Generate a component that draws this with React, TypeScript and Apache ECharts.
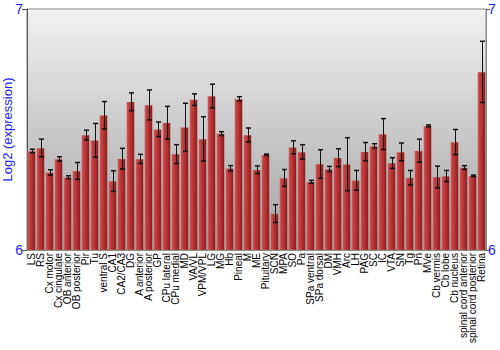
import React, { useEffect, useRef } from "react";
import * as echarts from "echarts";

const categories = [
  "LS", "RS", "Cx motor", "Cx cingulate", "OB anterior", "OB posterior", "Pir", "Tu", "ventral S", "CA1",
  "CA2/CA3", "DG", "A anterior", "A posterior", "GP", "CPu lateral", "CPu medial", "MD", "VA/VL", "VPM/VPL",
  "LG", "MG", "Hb", "Pineal", "M", "ME", "Pituitary", "SCN", "MPA", "SO",
  "Pa", "SPa ventral", "SPa dorsal", "DM", "VMH", "Arc", "LH", "PAG", "SC", "IC",
  "VTA", "SN", "Tg", "Pn", "MVe", "Cb vermis", "Cb lobe", "Cb nucleus", "spinal cord anterior", "spinal cord posterior",
  "Retina",
];

const values = [
  6.411, 6.423, 6.322, 6.378, 6.302, 6.328, 6.477, 6.455, 6.559, 6.286,
  6.379, 6.615, 6.378, 6.602, 6.501, 6.528, 6.398, 6.509, 6.624, 6.461,
  6.639, 6.483, 6.339, 6.627, 6.477, 6.333, 6.395, 6.151, 6.299, 6.426,
  6.407, 6.283, 6.357, 6.336, 6.383, 6.356, 6.289, 6.408, 6.432, 6.481,
  6.361, 6.407, 6.300, 6.412, 6.515, 6.303, 6.307, 6.448, 6.342, 6.308,
  6.739,
];

const errors = [
  0.007, 0.037, 0.011, 0.009, 0.006, 0.035, 0.020, 0.070, 0.057, 0.043,
  0.043, 0.037, 0.019, 0.062, 0.030, 0.068, 0.039, 0.100, 0.024, 0.092,
  0.049, 0.008, 0.011, 0.009, 0.029, 0.016, 0.003, 0.037, 0.035, 0.027,
  0.030, 0.006, 0.059, 0.011, 0.037, 0.110, 0.041, 0.038, 0.009, 0.064,
  0.022, 0.037, 0.030, 0.048, 0.004, 0.045, 0.023, 0.052, 0.008, 0.003,
  0.127,
];

const yTicks = [6, 7];

export default function App() {
  const ref = useRef<HTMLDivElement>(null);
  useEffect(() => {
    document.body.style.margin = "0";
    if (!ref.current) return;
    const chart = echarts.init(ref.current, null, { renderer: "svg" });
    const errData = values.map((v, i) => [i, v - errors[i], v + errors[i]]);
    const blue = "#2222ff";
    const font = "Liberation Sans, Arial, sans-serif";
    chart.setOption({
      animation: false,
      grid: {
        left: 27,
        right: 14,
        top: 9,
        bottom: 100,
        containLabel: false,
        outerBoundsMode: "none",
        show: true,
        borderColor: "#888",
        borderWidth: 1,
        backgroundColor: new echarts.graphic.LinearGradient(0, 0, 0, 1, [
          { offset: 0, color: "#f2f2f2" },
          { offset: 1, color: "#a2a2a2" },
        ]),
      },
      xAxis: {
        type: "category",
        data: categories,
        axisLine: { show: true, lineStyle: { color: "#888" } },
        axisTick: { show: false },
        axisLabel: {
          interval: 0,
          rotate: 90,
          fontSize: 10,
          color: "#000",
          fontFamily: font,
          margin: 3,
          hideOverlap: false,
        },
      },
      yAxis: [
        {
          type: "value",
          min: yTicks[0],
          max: yTicks[1],
          interval: 1,
          name: "Log2 (expression)",
          nameLocation: "middle",
          nameGap: 13,
          nameMoveOverlap: false,
          nameTextStyle: { color: blue, fontSize: 13, fontFamily: font },
          axisLine: { show: true, lineStyle: { color: "#555" } },
          axisTick: { show: true, length: 5, lineStyle: { color: "#555" } },
          splitLine: { show: false },
          axisLabel: { color: blue, fontSize: 14, margin: 4, fontFamily: font },
        },
        {
          type: "value",
          position: "right",
          min: yTicks[0],
          max: yTicks[1],
          interval: 1,
          axisLine: { show: true, lineStyle: { color: "#888" } },
          axisTick: { show: true, length: 4, lineStyle: { color: "#555" } },
          splitLine: { show: false },
          axisLabel: { color: blue, fontSize: 14, margin: 2, fontFamily: font },
        },
      ],
      series: [
        {
          type: "bar",
          data: values,
          barWidth: 8,
          itemStyle: {
            color: new echarts.graphic.LinearGradient(0, 0, 1, 0, [
              { offset: 0, color: "#c85555" },
              { offset: 0.3, color: "#c03d3d" },
              { offset: 0.7, color: "#a82a2a" },
              { offset: 1, color: "#7a1616" },
            ]),
            borderColor: "rgba(230,150,150,0.5)",
            borderWidth: 0.5,
          },
        },
        {
          type: "custom",
          data: errData,
          z: 10,
          renderItem: (params: any, api: any) => {
            const x = api.value(0);
            const lo = api.coord([x, api.value(1)]);
            const hi = api.coord([x, api.value(2)]);
            const cx = Math.round(lo[0]) + 0.5;
            const hw = 2.5;
            const st = { stroke: "#111", lineWidth: 1 };
            const cap = { stroke: "#111", lineWidth: 1.5 };
            return {
              type: "group",
              children: [
                { type: "line", shape: { x1: cx, y1: hi[1], x2: cx, y2: lo[1] }, style: st },
                { type: "line", shape: { x1: cx - hw, y1: hi[1], x2: cx + hw, y2: hi[1] }, style: cap },
                { type: "line", shape: { x1: cx - hw, y1: lo[1], x2: cx + hw, y2: lo[1] }, style: cap },
              ],
            };
          },
        },
      ],
    });
    return () => chart.dispose();
  }, []);
  return <div ref={ref} style={{ width: 500, height: 350 }} />;
}
